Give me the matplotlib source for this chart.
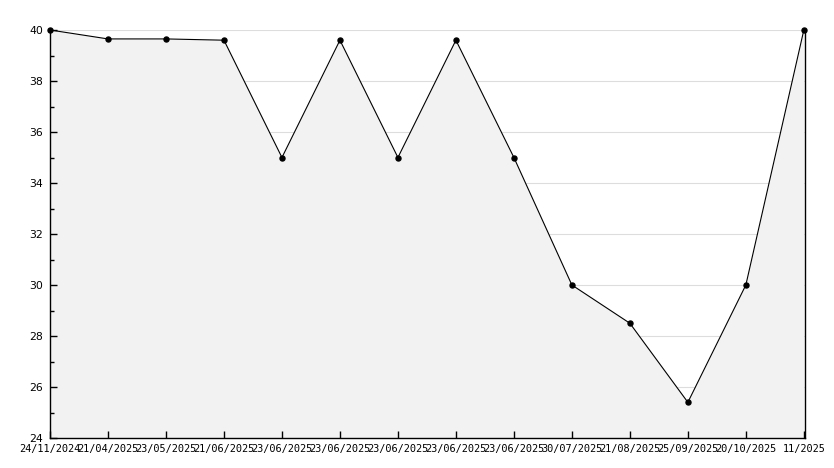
import numpy as np
import matplotlib.pyplot as plt
from matplotlib.ticker import MultipleLocator

dates = ["24/11/2024", "21/04/2025", "23/05/2025", "21/06/2025", "23/06/2025",
         "23/06/2025", "23/06/2025", "23/06/2025", "23/06/2025", "30/07/2025",
         "21/08/2025", "25/09/2025", "20/10/2025", "11/2025"]
values = [40, 39.65, 39.65, 39.6, 35, 39.6, 35, 39.6, 35, 30, 28.5, 25.4, 30, 40]

x = np.arange(len(values))

fig = plt.figure(figsize=(8.34, 4.68), dpi=100)
ax = fig.add_axes([50/834, 30/468, 755/834, 408/468])

ax.set_xlim(0, 13.02)
ax.set_ylim(24, 40)

# grid under the fill
for v in range(26, 41, 2):
    ax.axhline(v, color="#dddddd", lw=0.8, zorder=0)

ax.fill_between(x, values, 24, color="#f2f2f2", lw=0, zorder=1)
ax.plot(x, values, color="black", lw=0.8, marker="o", markersize=3.6, zorder=3, clip_on=False)

ax.set_xticks(x)
ax.set_xticklabels(dates, family="DejaVu Sans Mono", fontsize=7.4)
ax.yaxis.set_major_locator(MultipleLocator(2))
ax.yaxis.set_minor_locator(MultipleLocator(1))
for lab in ax.get_yticklabels():
    lab.set_fontsize(7.8)

ax.tick_params(axis="both", which="major", direction="in", length=5, width=1)
ax.tick_params(axis="y", which="minor", direction="in", length=3, width=1)
ax.tick_params(axis="y", pad=5)
ax.tick_params(axis="x", pad=4)

ax.spines["top"].set_visible(False)
for s in ["left", "bottom", "right"]:
    ax.spines[s].set_linewidth(1)
    ax.spines[s].set_zorder(4)

fig.savefig("out.png", dpi=100)
